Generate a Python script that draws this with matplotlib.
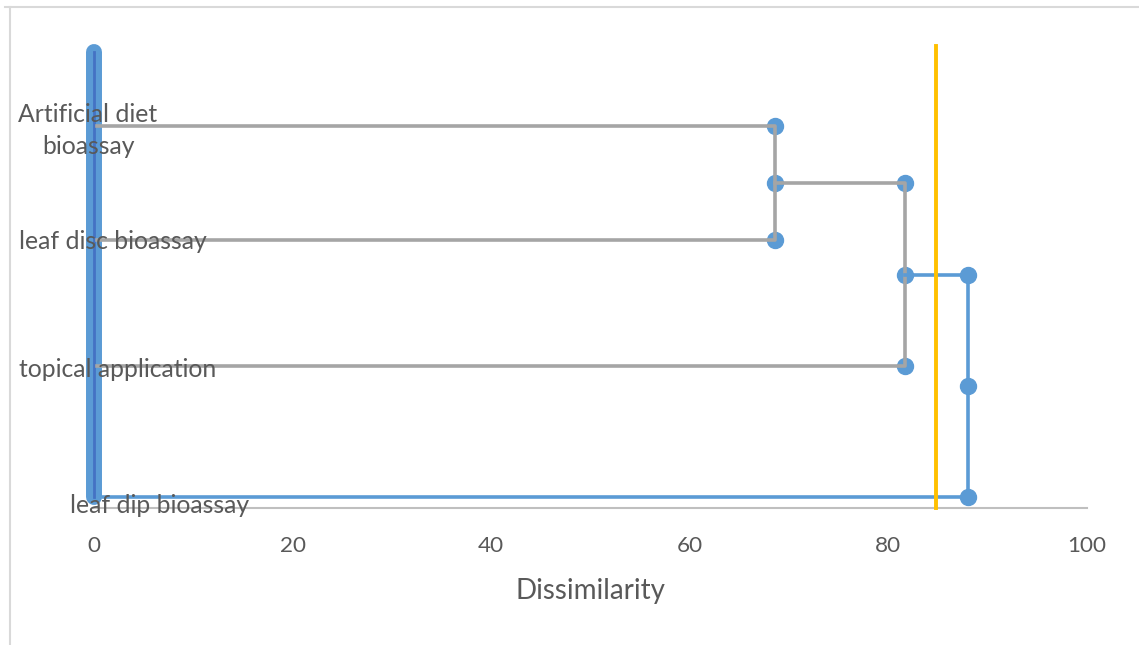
import matplotlib.pyplot as plt
from matplotlib.lines import Line2D

# leaves of the dendrogram (top to bottom) and their heights on a hidden 0-100 y scale
leaves = ['Artificial diet\nbioassay', 'leaf disc bioassay', 'topical application', 'leaf dip bioassay']
leaf_y = [82.7, 58.0, 30.7, 2.4]

# merge dissimilarities
merge1 = 68.6   # artificial diet + leaf disc
merge2 = 81.7   # (merge1) + topical
merge3 = 88.0   # (merge2) + leaf dip
cut = 84.8      # truncation line

xticks = [0, 20, 40, 60, 80, 100]

blue = '#5B9BD5'
gray = '#A5A5A5'
txt = '#595959'

plt.rcParams['font.family'] = ['Lato', 'DejaVu Sans']

fig = plt.figure(figsize=(11.39, 6.45), dpi=100)
ax = fig.add_axes([94/1139, 1-508/645, (1087-94)/1139, (508-46)/645])

m1 = (leaf_y[0] + leaf_y[1]) / 2
m2 = (m1 + leaf_y[2]) / 2
m3 = (m2 + leaf_y[3]) / 2

# thick left bar
ax.plot([0, 0], [leaf_y[3], 98.8], color=blue, lw=11.5, solid_capstyle='round', zorder=2, clip_on=False)
ax.plot([0, 0], [leaf_y[3], 98.8], color='#4472C4', lw=2, zorder=2.5, clip_on=False)

# node markers
mx = [merge1, merge1, merge1, merge2, merge2, merge2, merge3, merge3, merge3]
my = [leaf_y[0], m1, leaf_y[1], m1, m2, leaf_y[2], m2, m3, leaf_y[3]]
ax.plot(mx, my, 'o', color=blue, ms=11.5, zorder=3, clip_on=False)

# gray links
ax.plot([0.3, merge1, merge1, 0.3], [leaf_y[0], leaf_y[0], leaf_y[1], leaf_y[1]], color=gray, lw=2.6, zorder=4)
ax.plot([merge1, merge2, merge2, 0.3], [m1, m1, leaf_y[2], leaf_y[2]], color=gray, lw=2.6, zorder=4)
# blue links
ax.plot([merge2, merge3, merge3, 0.9], [m2, m2, leaf_y[3], leaf_y[3]], color=blue, lw=2.6, zorder=4)

# cut line
ax.plot([cut, cut], [0, 100], color='#FFC000', lw=2.8, zorder=5, clip_on=False)

# leaf labels
fs = 17.8
ax.text(-0.6, leaf_y[0] - 1.0, leaves[0], ha='center', va='center', multialignment='center',
        fontsize=fs, color=txt, zorder=6, linespacing=1.5)
ax.text(-7.55, leaf_y[1] - 0.4, leaves[1], ha='left', va='center', fontsize=fs, color=txt, zorder=6)
ax.text(-7.55, leaf_y[2] - 0.7, leaves[2], ha='left', va='center', fontsize=fs, color=txt, zorder=6)
ax.text(-2.4, leaf_y[3] - 1.8, leaves[3], ha='left', va='center', fontsize=fs, color=txt, zorder=6)

ax.set_xlim(0, 100)
ax.set_ylim(0, 100)
ax.set_xticks(xticks)
ax.tick_params(axis='x', length=0, pad=20, labelsize=16.2, labelcolor=txt)
ax.set_yticks([])
for s in ['top', 'right', 'left']:
    ax.spines[s].set_visible(False)
ax.spines['bottom'].set_color('#BFBFBF')
ax.spines['bottom'].set_linewidth(1.5)
ax.set_xlabel('Dissimilarity', fontsize=20, color=txt, labelpad=16)

# chart border (cropped)
fig.add_artist(Line2D([5, 1139], [645-7, 645-7], transform=None, color='#D9D9D9', lw=1.5))
fig.add_artist(Line2D([10, 10], [0, 645-7], transform=None, color='#D9D9D9', lw=1.5))

fig.savefig('out.png', dpi=100)
